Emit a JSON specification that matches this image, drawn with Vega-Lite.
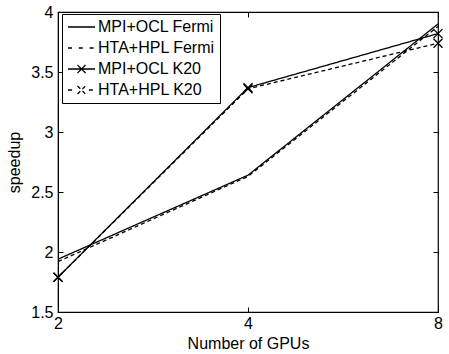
{
  "$schema": "https://vega.github.io/schema/vega-lite/v6.json",
  "width": 380,
  "height": 300,
  "autosize": {"type": "none"},
  "padding": {"left": 58, "top": 12, "right": 11, "bottom": 42},
  "background": "white",
  "config": {
    "view": {"stroke": "black", "strokeWidth": 1.2},
    "font": "Liberation Sans",
    "axis": {
      "grid": false,
      "domainColor": "black",
      "tickColor": "black",
      "labelColor": "black",
      "titleColor": "black",
      "labelFont": "Liberation Sans",
      "titleFont": "Liberation Sans",
      "labelFontSize": 16,
      "titleFontSize": 16,
      "titleFontWeight": "normal",
      "tickSize": -5
    }
  },
  "data": {
    "values": [
      {"gpus": 2, "speedup": 1.94, "series": "MPI+OCL Fermi"},
      {"gpus": 4, "speedup": 2.64, "series": "MPI+OCL Fermi"},
      {"gpus": 8, "speedup": 3.90, "series": "MPI+OCL Fermi"},
      {"gpus": 2, "speedup": 1.92, "series": "HTA+HPL Fermi"},
      {"gpus": 4, "speedup": 2.63, "series": "HTA+HPL Fermi"},
      {"gpus": 8, "speedup": 3.88, "series": "HTA+HPL Fermi"},
      {"gpus": 2, "speedup": 1.79, "series": "MPI+OCL K20"},
      {"gpus": 4, "speedup": 3.37, "series": "MPI+OCL K20"},
      {"gpus": 8, "speedup": 3.82, "series": "MPI+OCL K20"},
      {"gpus": 2, "speedup": 1.79, "series": "HTA+HPL K20"},
      {"gpus": 4, "speedup": 3.36, "series": "HTA+HPL K20"},
      {"gpus": 8, "speedup": 3.74, "series": "HTA+HPL K20"}
    ]
  },
  "resolve": {"axis": {"x": "independent", "y": "independent"}},
  "layer": [
    {
      "mark": {"type": "line", "color": "black", "strokeWidth": 1.3},
      "encoding": {
        "x": {
          "field": "gpus", "type": "quantitative",
          "scale": {"type": "log", "base": 2, "domain": [2, 8]},
          "axis": {"values": [2, 4, 8], "format": "d", "title": "Number of GPUs", "labelPadding": 8, "titlePadding": 4, "labelFlush": false, "labelOverlap": false}
        },
        "y": {
          "field": "speedup", "type": "quantitative",
          "scale": {"domain": [1.5, 4], "zero": false, "nice": false},
          "axis": {"values": [1.5, 2, 2.5, 3, 3.5, 4], "format": "~g", "title": "speedup", "labelPadding": 10, "titlePadding": 8, "labelFlush": false, "labelOverlap": false}
        },
        "strokeDash": {
          "field": "series", "type": "nominal",
          "scale": {
            "domain": ["MPI+OCL Fermi", "HTA+HPL Fermi", "MPI+OCL K20", "HTA+HPL K20"],
            "range": [[1, 0], [4, 3], [1, 0], [4, 3]]
          },
          "legend": {
            "title": null,
            "orient": "none",
            "legendX": 4,
            "legendY": 2,
            "strokeColor": "black",
            "fillColor": "white",
            "padding": 5,
            "symbolSize": 729,
            "symbolStrokeWidth": 1.3,
            "symbolStrokeColor": "black",
            "labelFontSize": 16,
            "labelFont": "Liberation Sans",
            "labelColor": "black",
            "labelOffset": 2,
            "clipHeight": 16,
            "rowPadding": 5,
            "encode": {
              "symbols": {
                "update": {
                  "shape": {"signal": "datum.value === 'MPI+OCL Fermi' ? 'M-1,0H1' : datum.value === 'HTA+HPL Fermi' ? 'M-1,0H-0.6M-0.2,0H0.2M0.6,0H1' : datum.value === 'MPI+OCL K20' ? 'M-1,0H1M-0.3,-0.3L0.3,0.3M-0.3,0.3L0.3,-0.3' : 'M-1,0H-0.55M0.55,0H1M-0.3,-0.3L0.3,0.3M-0.3,0.3L0.3,-0.3'"},
                  "strokeDash": {"value": []},
                  "stroke": {"value": "black"}
                }
              }
            }
          }
        }
      }
    },
    {
      "transform": [{"filter": "indexof(datum.series, 'K20') >= 0"}],
      "mark": {"type": "point", "shape": "M-1,-1L1,1M-1,1L1,-1", "size": 81, "filled": false, "color": "black", "strokeWidth": 1.3, "opacity": 1},
      "encoding": {
        "x": {
          "field": "gpus", "type": "quantitative",
          "scale": {"type": "log", "base": 2, "domain": [2, 8]},
          "axis": {"orient": "top", "values": [2, 4, 8], "labels": false, "title": null, "domain": false}
        },
        "y": {
          "field": "speedup", "type": "quantitative",
          "scale": {"domain": [1.5, 4], "zero": false, "nice": false},
          "axis": {"orient": "right", "values": [1.5, 2, 2.5, 3, 3.5, 4], "labels": false, "title": null, "domain": false}
        }
      }
    }
  ]
}
